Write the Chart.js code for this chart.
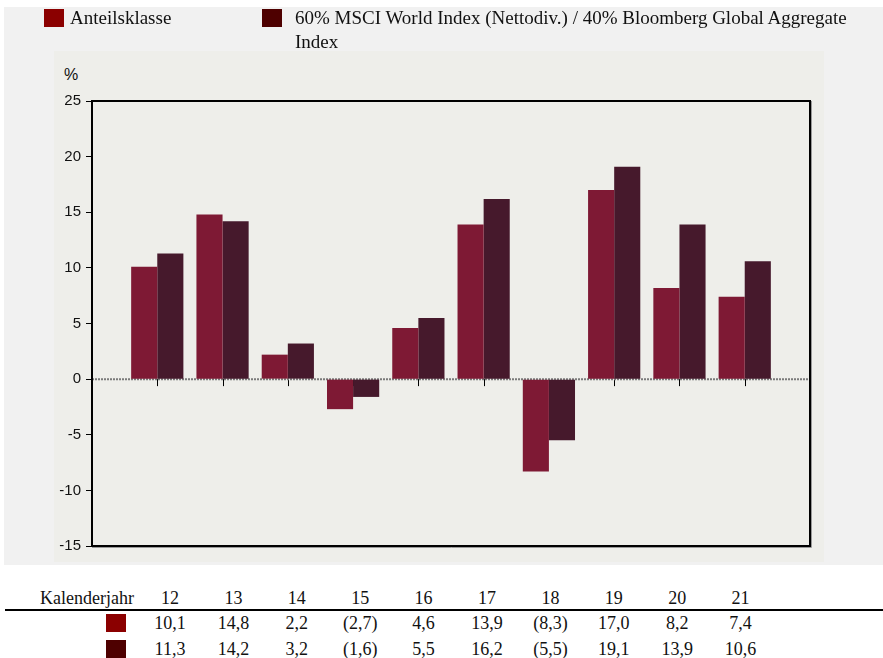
<!DOCTYPE html>
<html>
<head>
<meta charset="utf-8">
<script src="https://cdn.jsdelivr.net/npm/chart.js@4.4.1/dist/chart.umd.min.js"></script>
<style>
body { margin: 0; background: #fff; width: 883px; height: 658px; position: relative; overflow: hidden; font-family: "Liberation Serif", "Times New Roman", serif; }
#outer { position: absolute; left: 4px; top: 7px; width: 879px; height: 558px; background: #f1f1f1; }
#inner { position: absolute; left: 54px; top: 51px; width: 770px; height: 511px; background: #eeeeea; }
#chartarea { position: absolute; left: 54px; top: 51px; }
.sq { position: absolute; width: 20px; height: 18px; }
.txt { position: absolute; font-size: 18px; line-height: 22px; color: #111; white-space: nowrap; }
.leg { position: absolute; font-size: 19px; line-height: 24px; color: #111; white-space: nowrap; }
.cell { position: absolute; font-size: 18px; line-height: 22px; color: #111; text-align: center; width: 60px; }
#pct { position: absolute; left: 64px; top: 66px; font-family: "Liberation Sans", Arial, sans-serif; font-size: 16px; color: #111; }
#hline { position: absolute; left: 5px; top: 609px; width: 878px; height: 2px; background: #000; }
</style>
</head>
<body>
<div id="outer"></div>
<div id="inner"></div>
<div id="pct">%</div>
<canvas id="chartarea" width="770" height="511"></canvas>
<div id="legend"></div>
<div id="hline"></div>
<div id="table"></div>
<script>
// Kalenderjahre
var jahre = ["12", "13", "14", "15", "16", "17", "18", "19", "20", "21"];
// Wertentwicklung in %
var anteilsklasse = [10.1, 14.8, 2.2, -2.7, 4.6, 13.9, -8.3, 17.0, 8.2, 7.4];
var index = [11.3, 14.2, 3.2, -1.6, 5.5, 16.2, -5.5, 19.1, 13.9, 10.6];
var yTicks = [-15, -10, -5, 0, 5, 10, 15, 20, 25];
var legendNamen = ["Anteilsklasse", "60% MSCI World Index (Nettodiv.) / 40% Bloomberg Global Aggregate<br>Index"];

var barFarben = ["#7e1934", "#46192c"];
var squareFarben = ["#8b0000", "#4e0000"];

function fmt(v) {
    var s = Math.abs(v).toFixed(1).replace(".", ",");
    return v < 0 ? "(" + s + ")" : s;
}

// leere Kategorie links und rechts (Abstand zum Rahmen)
function mitRand(arr, leer) {
    return [leer].concat(arr, [leer]);
}

// Legende oben
var legend = document.getElementById("legend");
var legendX = [[44, 70], [262, 295]];
for (var i = 0; i < 2; i++) {
    legend.innerHTML += '<div class="sq" style="left:' + legendX[i][0] + 'px;top:9px;background:' + squareFarben[i] + '"></div>' +
        '<div class="leg" style="left:' + legendX[i][1] + 'px;top:6px">' + legendNamen[i] + '</div>';
}

// Tabelle unten
var table = document.getElementById("table");
var html = '<div class="txt" style="left:40px;top:587px">Kalenderjahr</div>';
for (var x = 0; x < jahre.length; x++) {
    var cx = 170 + x * 63.4 - 30;
    html += '<div class="cell" style="left:' + cx + 'px;top:587px">' + jahre[x] + '</div>';
    html += '<div class="cell" style="left:' + cx + 'px;top:612px">' + fmt(anteilsklasse[x]) + '</div>';
    html += '<div class="cell" style="left:' + cx + 'px;top:638px">' + fmt(index[x]) + '</div>';
}
html += '<div class="sq" style="left:106px;top:614px;background:' + squareFarben[0] + '"></div>';
html += '<div class="sq" style="left:106px;top:640px;background:' + squareFarben[1] + '"></div>';
table.innerHTML = html;

var rahmen = {
    id: "rahmen",
    beforeDatasetsDraw: function(chart) {
        var ctx = chart.ctx, a = chart.chartArea;
        var y0 = chart.scales.y.getPixelForValue(0);
        ctx.save();
        // Ticks an der Nulllinie
        ctx.strokeStyle = "#000";
        ctx.lineWidth = 1;
        for (var i = 1; i <= jahre.length; i++) {
            var px = Math.round(chart.scales.x.getPixelForTick(i)) + 0.5;
            ctx.beginPath();
            ctx.moveTo(px, y0);
            ctx.lineTo(px, y0 + 7);
            ctx.stroke();
        }
        // gepunktete Nulllinie
        ctx.strokeStyle = "#7a7a7a";
        ctx.lineWidth = 2;
        ctx.setLineDash([2, 1]);
        ctx.beginPath();
        ctx.moveTo(a.left, y0);
        ctx.lineTo(a.right, y0);
        ctx.stroke();
        ctx.restore();
    },
    afterDraw: function(chart) {
        var ctx = chart.ctx, a = chart.chartArea;
        ctx.save();
        ctx.strokeStyle = "#999";
        ctx.lineWidth = 1;
        ctx.beginPath();
        ctx.moveTo(a.right + 1.5, a.top);
        ctx.lineTo(a.right + 1.5, a.bottom + 1.5);
        ctx.lineTo(a.left, a.bottom + 1.5);
        ctx.stroke();
        ctx.strokeStyle = "#000";
        ctx.lineWidth = 2;
        ctx.strokeRect(a.left, a.top, a.right - a.left, a.bottom - a.top);
        ctx.restore();
    }
};

var chartarea = document.getElementById("chartarea").getContext("2d");
var chart = new Chart(chartarea, {
    type: "bar",
    data: {
        labels: mitRand(jahre, ""),
        datasets: [
            {
                label: "Anteilsklasse",
                backgroundColor: barFarben[0],
                data: mitRand(anteilsklasse, null)
            }, {
                label: "Index",
                backgroundColor: barFarben[1],
                data: mitRand(index, null)
            }
        ]
    },
    options: {
        responsive: false,
        animation: false,
        devicePixelRatio: 1,
        layout: { padding: { top: 50, right: 14, bottom: 16, left: 0 } },
        plugins: { legend: { display: false }, tooltip: { enabled: false } },
        datasets: { bar: { categoryPercentage: 0.8, barPercentage: 1.0 } },
        scales: {
            x: { display: false, offset: false },
            y: {
                min: -15,
                max: 25,
                afterFit: function(s) { s.width = 38; },
                afterBuildTicks: function(s) { s.ticks = yTicks.map(function(v) { return { value: v }; }); },
                ticks: {
                    color: "#111",
                    padding: 5,
                    font: { family: "'Liberation Sans', Arial, sans-serif", size: 15 }
                },
                grid: { drawOnChartArea: false, drawTicks: true, tickLength: 6, color: "#000", lineWidth: 1 },
                border: { display: false }
            }
        }
    },
    plugins: [rahmen]
});
</script>
</body>
</html>
